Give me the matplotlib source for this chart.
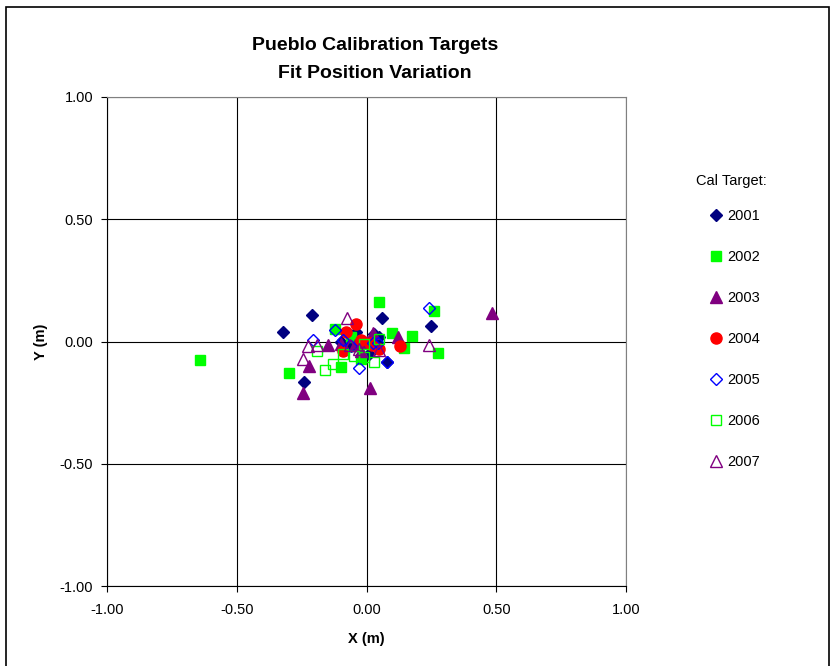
import matplotlib
matplotlib.use("Agg")
import matplotlib.pyplot as plt
from matplotlib.patches import Rectangle

plt.rcParams['font.family'] = ['Liberation Sans', 'DejaVu Sans']

x2001 = [-0.32, -0.21, -0.24, 0.06, 0.25, 0.08, -0.10, 0.03, -0.02, 0.04, -0.07, 0.01, -0.04, 0.05]
y2001 = [0.04, 0.11, -0.165, 0.095, 0.065, -0.085, 0.00, 0.03, -0.02, -0.01, -0.01, -0.05, 0.04, 0.02]

x2002 = [-0.64, -0.30, -0.10, 0.05, 0.26, 0.275, 0.175, 0.145, 0.10, -0.12, -0.02, -0.06]
y2002 = [-0.075, -0.13, -0.105, 0.16, 0.125, -0.047, 0.022, -0.027, 0.035, 0.05, -0.07, 0.02]

x2003 = [0.485, -0.245, -0.22, 0.015, -0.15, 0.12, -0.045, 0.025, -0.02, -0.10, 0.0]
y2003 = [0.115, -0.21, -0.10, -0.19, -0.013, 0.02, -0.013, 0.035, -0.04, -0.01, 0.0]

x2004 = [-0.04, -0.08, -0.09, -0.02, 0.015, 0.13, 0.05, 0.02]
y2004 = [0.07, 0.04, -0.04, 0.005, -0.005, -0.02, -0.03, -0.015]

x2005 = [0.24, 0.08, -0.205, -0.12, -0.03, -0.09, 0.025, 0.045, -0.06]
y2005 = [0.135, -0.085, 0.005, 0.045, -0.11, 0.005, -0.005, -0.005, -0.02]

x2006 = [-0.16, -0.13, -0.19, -0.09, -0.05, -0.01, 0.03, -0.01, 0.05]
y2006 = [-0.115, -0.09, -0.04, -0.05, -0.06, -0.01, -0.085, -0.065, 0.01]

x2007 = [0.24, -0.075, -0.225, -0.245, -0.19, -0.065, 0.05, -0.03]
y2007 = [-0.015, 0.095, -0.02, -0.07, -0.015, -0.015, -0.035, -0.03]

series = [
    ("2001", x2001, y2001, dict(marker='D', color='#000080', mfc='#000080', ms=6.5)),
    ("2002", x2002, y2002, dict(marker='s', color='#00FF00', mfc='#00FF00', ms=7)),
    ("2003", x2003, y2003, dict(marker='^', color='#800080', mfc='#800080', ms=8)),
    ("2004", x2004, y2004, dict(marker='o', color='#FF0000', mfc='#FF0000', ms=8)),
    ("2005", x2005, y2005, dict(marker='D', color='#0000FF', mfc='none', ms=6.5)),
    ("2006", x2006, y2006, dict(marker='s', color='#00FF00', mfc='none', ms=7)),
    ("2007", x2007, y2007, dict(marker='^', color='#800080', mfc='none', ms=8)),
]

fig = plt.figure(figsize=(8.36, 6.66), dpi=100)
ax = fig.add_axes([107/836, 1-586/666, (626-107)/836, (586-97)/666])

for name, xs, ys, st in series:
    ax.plot(xs, ys, linestyle='none', label=name, mew=1.0, **st)

ax.set_xlim(-1, 1)
ax.set_ylim(-1, 1)
ticks = [-1.0, -0.5, 0.0, 0.5, 1.0]
ax.set_xticks(ticks)
ax.set_yticks(ticks)
ax.set_xticklabels(["-1.00", "-0.50", "0.00", "0.50", "1.00"])
ax.set_yticklabels(["-1.00", "-0.50", "0.00", "0.50", "1.00"])
ax.grid(True, color='black', linewidth=0.8)
ax.set_axisbelow(True)
for s in ax.spines.values():
    s.set_color('#808080')
    s.set_linewidth(0.8)
ax.spines['left'].set_color('black')
ax.spines['bottom'].set_color('black')
ax.tick_params(direction='out', length=4, width=0.8, labelsize=10.5)
ax.tick_params(axis='x', pad=8)
ax.tick_params(axis='y', pad=6)
ax.set_xlabel("X (m)", fontsize=10.5, fontweight='bold', labelpad=11)
ax.set_ylabel("Y (m)", fontsize=10.5, fontweight='bold', labelpad=8)

fig.text(375/836, 1-45/666, "Pueblo Calibration Targets", ha='center', va='center',
         fontsize=14, fontweight='bold')
fig.text(375/836, 1-73/666, "Fit Position Variation", ha='center', va='center',
         fontsize=14, fontweight='bold')

fig.text(696/836, 1-181/666, "Cal Target:", ha='left', va='center', fontsize=10.5)
leg = fig.legend(loc='upper left', bbox_to_anchor=(697/836, 1-196/666), frameon=False,
                 fontsize=10.5, labelspacing=1.85, handlelength=0.8,
                 handletextpad=0.35, numpoints=1)

fig.patches.append(Rectangle((6/836, -0.01), 823/836, 1-7/666+0.01, transform=fig.transFigure,
                             fill=False, edgecolor='black', linewidth=1.2))

fig.savefig("out.png", dpi=100)
